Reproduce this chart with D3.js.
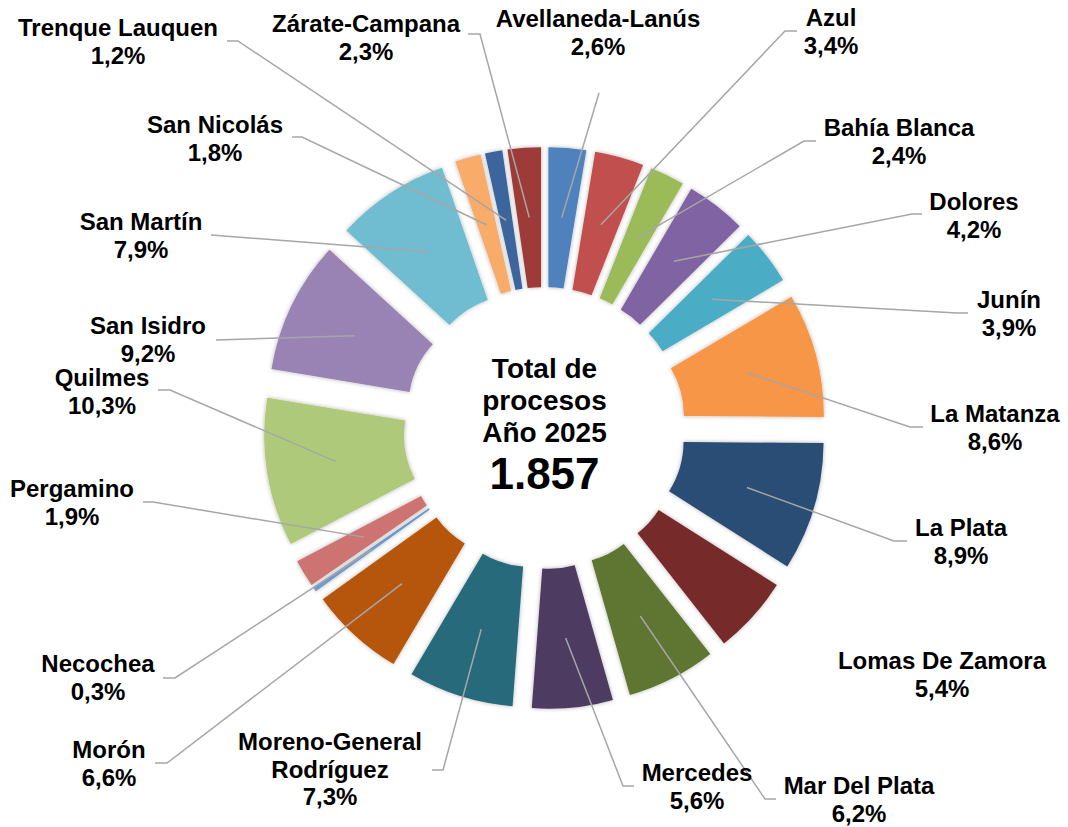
<!DOCTYPE html>
<html>
<head>
<meta charset="utf-8">
<script src="https://cdn.jsdelivr.net/npm/d3@7"></script>
<style>
  body { margin: 0; background: #fff; }
  text { font-family: "Liberation Sans", Arial, sans-serif; font-weight: bold; fill: #000; }
</style>
</head>
<body>
<div id="chart"></div>
<script>
// data (percent of total, clockwise from 12 o'clock)
var departamentos = ["Avellaneda-Lanús", "Azul", "Bahía Blanca", "Dolores", "Junín", "La Matanza",
  "La Plata", "Lomas De Zamora", "Mar Del Plata", "Mercedes", "Moreno-General Rodríguez", "Morón",
  "Necochea", "Pergamino", "Quilmes", "San Isidro", "San Martín", "San Nicolás", "Trenque Lauquen",
  "Zárate-Campana"]
var porcentajes = [2.6, 3.4, 2.4, 4.2, 3.9, 8.6, 8.9, 5.4, 6.2, 5.6, 7.3, 6.6, 0.3, 1.9, 10.3, 9.2, 7.9, 1.8, 1.2, 2.3]
var totalProcesos = 1857
var tituloCentro = ["Total de", "procesos", "Año 2025"]

var colores = ["#4F81BD", "#C0504D", "#9BBB59", "#8064A2", "#4BACC6", "#F79646",
  "#2C4D75", "#772C2A", "#5F7530", "#4D3B62", "#276A7C", "#B65708",
  "#729ACA", "#CD7371", "#AFC97A", "#9983B5", "#6FBDD1", "#F9AB6B",
  "#3A659C", "#9C3B38"]

// label placement: text centre, first baseline, and leader hook points (near label -> elbow)
var etiquetas = {
  "Trenque Lauquen": { x: 118, y: 36, hook: [[227, 41], [238, 41]] },
  "Zárate-Campana": { x: 366, y: 32, hook: [[468, 34], [480, 34]] },
  "Avellaneda-Lanús": { x: 598, y: 27, hook: [[599, 93]] },
  "Azul": { x: 831, y: 26, hook: [[797, 31], [785, 31]] },
  "Bahía Blanca": { x: 899, y: 136, hook: [[816, 141], [804, 141]] },
  "Dolores": { x: 974, y: 210, hook: [[922, 214], [912, 214]] },
  "Junín": { x: 1009, y: 308, hook: [[968, 313], [957, 313]] },
  "La Matanza": { x: 995, y: 422, hook: [[923, 427], [910, 427]] },
  "La Plata": { x: 961, y: 536, hook: [[907, 541], [894, 541]] },
  "Lomas De Zamora": { x: 942, y: 669, hook: null },
  "Mar Del Plata": { x: 859, y: 794, hook: [[776, 799], [765, 799]] },
  "Mercedes": { x: 697, y: 781, hook: [[634, 786], [623, 786]] },
  "Moreno-General Rodríguez": { x: 330, y: 750, hook: [[432, 770], [443, 770]], wrap: true },
  "Morón": { x: 109, y: 758, hook: [[155, 763], [167, 763]] },
  "Necochea": { x: 98, y: 672, hook: [[163, 678], [175, 678]] },
  "Pergamino": { x: 72, y: 497, hook: [[143, 502], [153, 502]] },
  "Quilmes": { x: 102, y: 386, hook: [[158, 390], [170, 390]] },
  "San Isidro": { x: 148, y: 334, hook: [[216, 340]] },
  "San Martín": { x: 141, y: 230, hook: [[211, 235]] },
  "San Nicolás": { x: 215, y: 133, hook: [[292, 137], [302, 137]] }
}

var width = 1068, height = 827
var cx = 544.5, cy = 428
var rInner = 93, rOuter = 233, explode = 48

var svg = d3.select("#chart").append("svg")
  .attr("width", width)
  .attr("height", height)

var defs = svg.append("defs")
var sombra = defs.append("filter").attr("id", "sombra")
  .attr("x", "-20%").attr("y", "-20%").attr("width", "140%").attr("height", "140%")
sombra.append("feDropShadow")
  .attr("dx", 0).attr("dy", 0).attr("stdDeviation", 2)
  .attr("flood-color", "#000").attr("flood-opacity", 0.3)

var datos = departamentos.map(function(d, i) { return { nombre: d, valor: porcentajes[i], color: colores[i] } })

var pie = d3.pie().sort(null).value(function(d) { return d.valor })
var arc = d3.arc().innerRadius(rInner).outerRadius(rOuter)

var arcos = pie(datos)

function desplazamiento(d) {
  var a = (d.startAngle + d.endAngle) / 2
  return [Math.sin(a) * explode, -Math.cos(a) * explode]
}

var g = svg.append("g").attr("transform", "translate(" + cx + "," + cy + ")")

g.selectAll("path.slice")
  .data(arcos)
  .enter().append("path")
  .attr("class", "slice")
  .attr("d", arc)
  .attr("fill", function(d) { return d.data.color })
  .attr("filter", "url(#sombra)")
  .attr("transform", function(d) {
    var o = desplazamiento(d)
    return "translate(" + o[0] + "," + o[1] + ")"
  })

// leader lines
var fmt = function(v) { return d3.format(".1f")(v).replace(".", ",") + "%" }

arcos.forEach(function(d) {
  var lab = etiquetas[d.data.nombre]
  if (!lab || !lab.hook) return
  var c = arc.centroid(d)
  var o = desplazamiento(d)
  var p0 = [cx + c[0] + o[0], cy + c[1] + o[1]]
  var pts = [p0].concat(lab.hook.slice().reverse())
  svg.append("path")
    .attr("d", d3.line()(pts))
    .attr("fill", "none")
    .attr("stroke", "#A6A6A6")
    .attr("stroke-width", 1.5)
})

// labels
arcos.forEach(function(d) {
  var lab = etiquetas[d.data.nombre]
  var lineas = lab.wrap ? d.data.nombre.split(" ") : [d.data.nombre]
  lineas.push(fmt(d.data.valor))
  var t = svg.append("text")
    .attr("text-anchor", "middle")
    .style("font-size", "24px")
  lineas.forEach(function(l, i) {
    t.append("tspan").attr("x", lab.x).attr("y", lab.y + i * 27.5).text(l)
  })
})

// centre text
tituloCentro.forEach(function(l, i) {
  svg.append("text")
    .attr("x", cx)
    .attr("y", 378 + i * 32)
    .attr("text-anchor", "middle")
    .style("font-size", "28px")
    .text(l)
})
svg.append("text")
  .attr("x", cx)
  .attr("y", 489)
  .attr("text-anchor", "middle")
  .style("font-size", "44px")
  .text(d3.format(",")(totalProcesos).replace(/,/g, "."))
</script>
</body>
</html>
